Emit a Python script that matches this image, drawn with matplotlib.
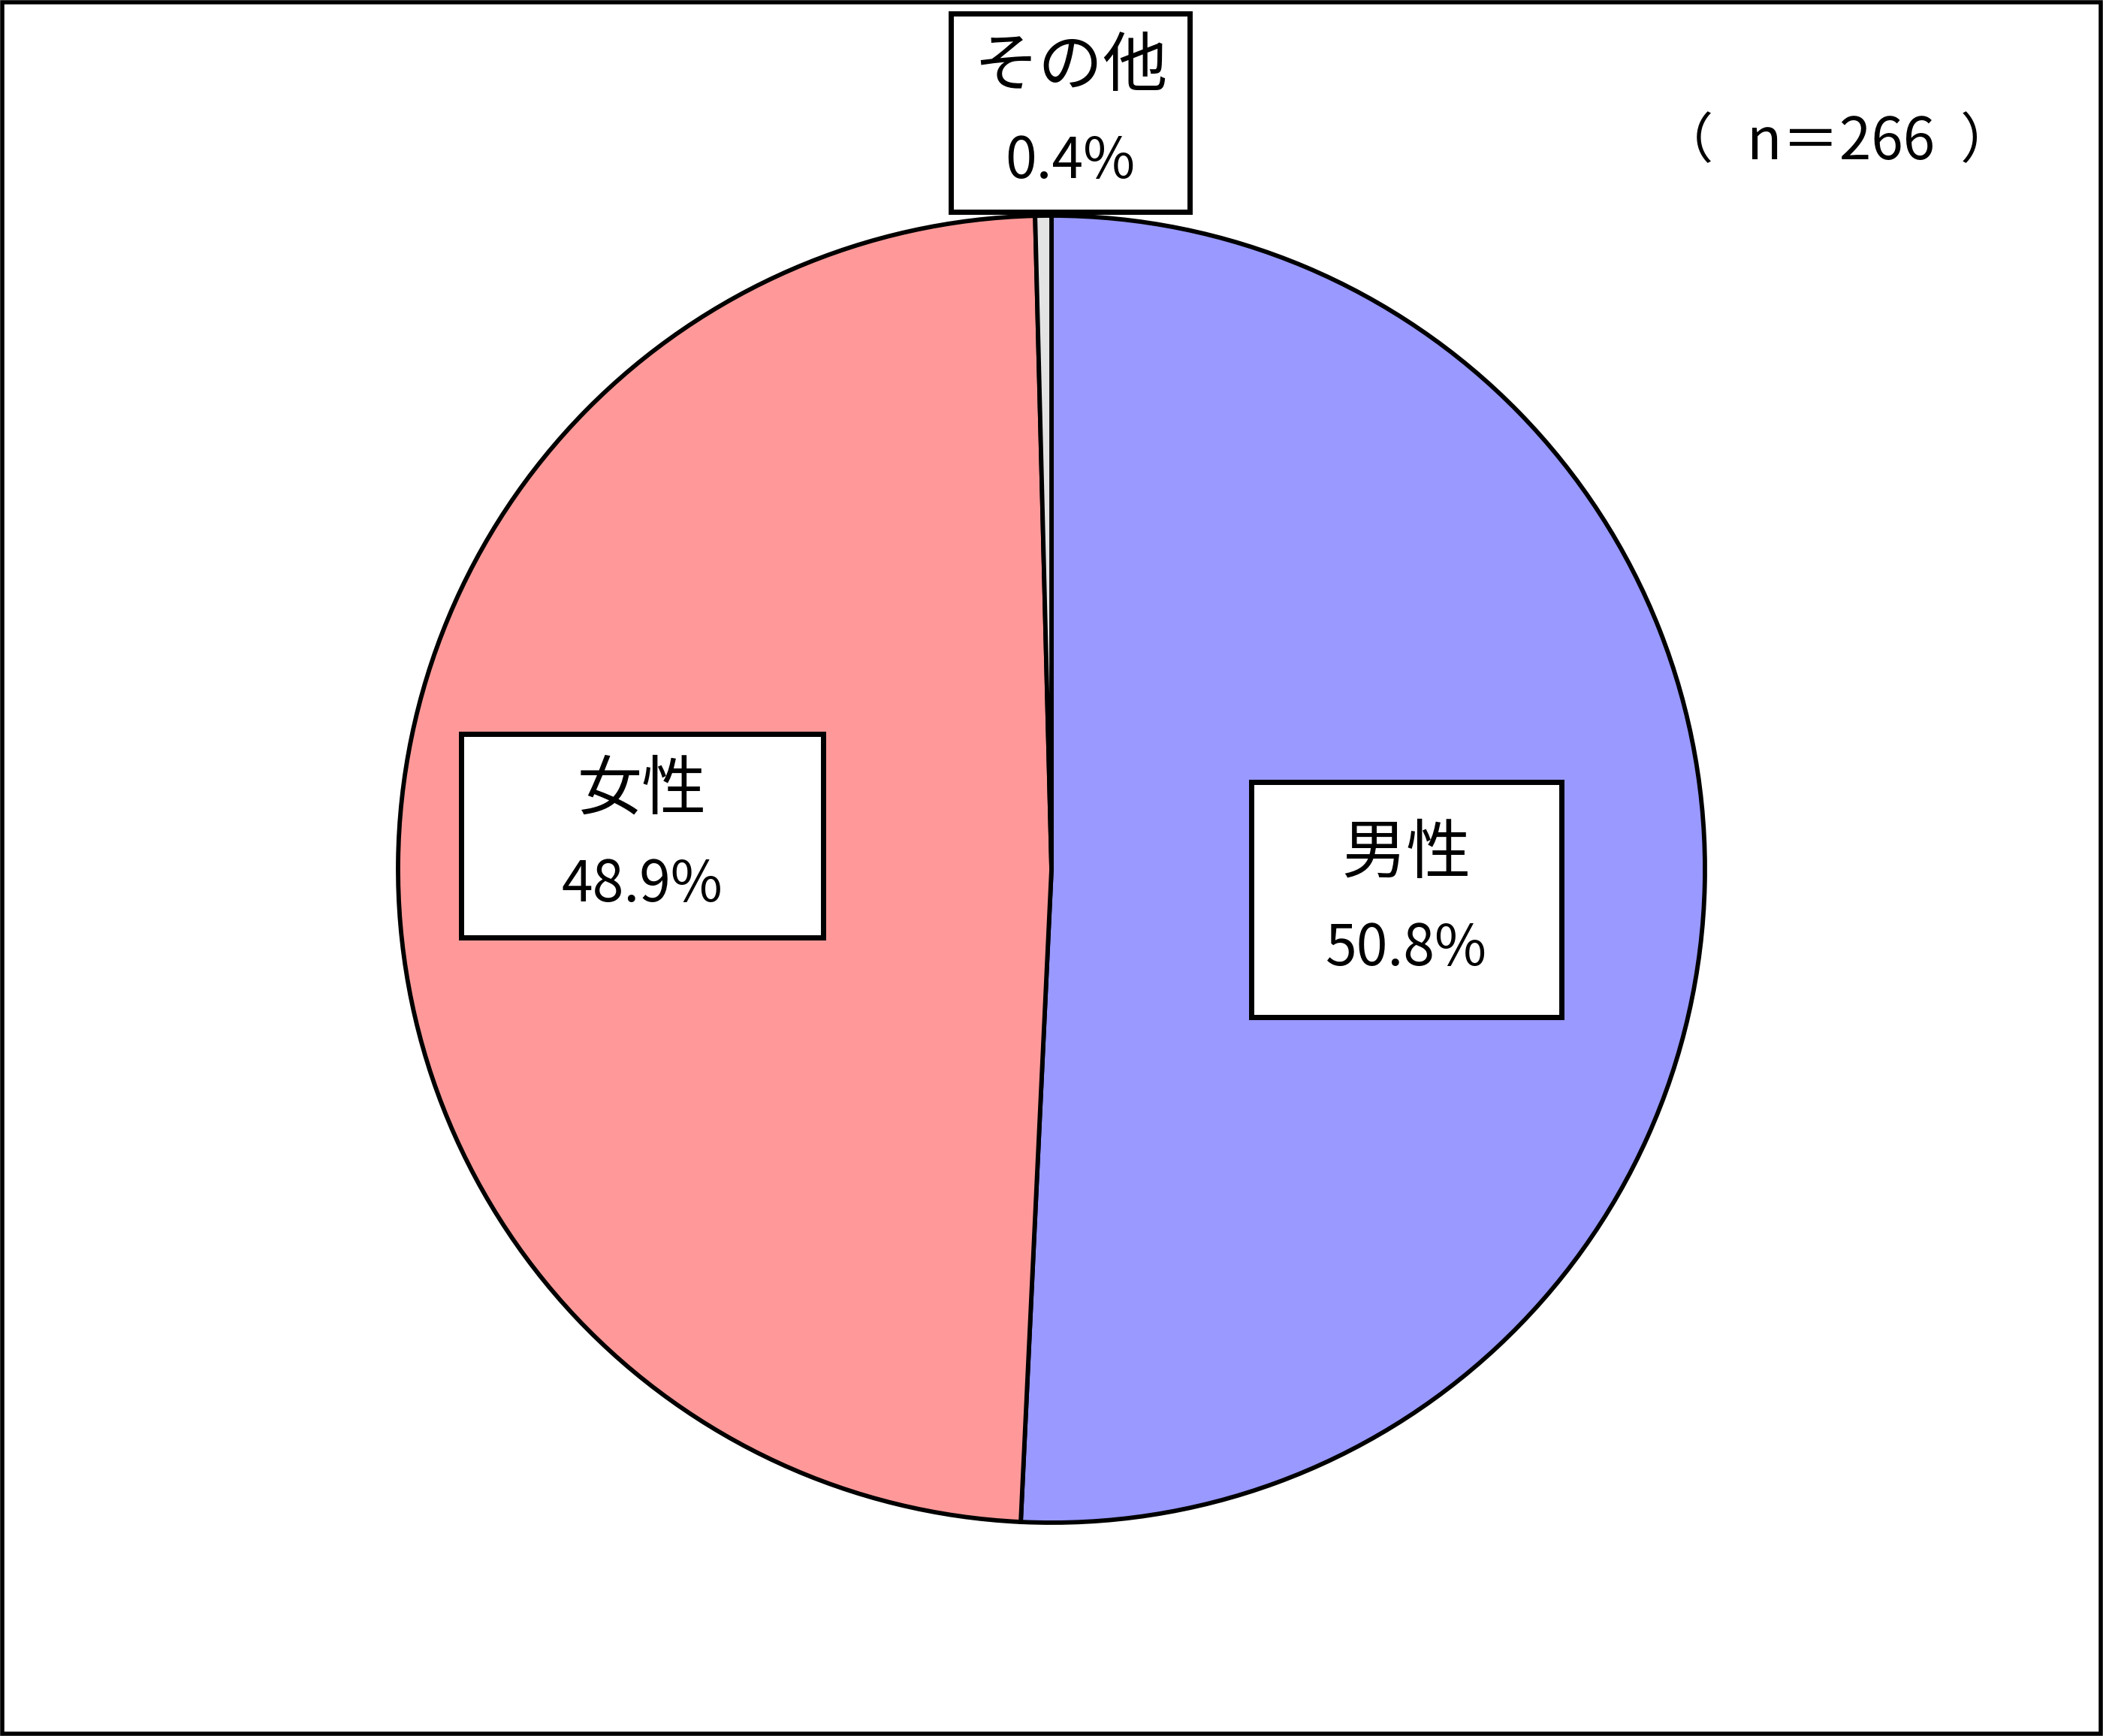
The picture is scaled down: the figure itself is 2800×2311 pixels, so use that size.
import matplotlib.pyplot as plt
from matplotlib.patches import Rectangle

plt.rcParams['font.family'] = ['Noto Sans CJK JP', 'DejaVu Sans']

# data
labels = ['男性', '女性', 'その他']
shares = [50.8, 48.9, 0.4]
colors = ['#9999FF', '#FF9999', '#E3E3E3']
n_total = 266

W, H = 2800, 2311

fig = plt.figure(figsize=(W / 100, H / 100), dpi=100)
ax = fig.add_axes([0, 0, 1, 1])

# pie in pixel coordinates (y measured from bottom)
ax.pie(shares, colors=colors, startangle=90, counterclock=False,
       center=(1400, H - 1157), radius=870,
       wedgeprops={'edgecolor': 'black', 'linewidth': 4.2})
ax.set_xlim(0, W)
ax.set_ylim(0, H)
ax.set_aspect('equal')
ax.axis('off')

# label boxes: (left, top, width, height) in pixels from top-left
boxes = [
    (1666, 1041, 413, 313),
    (614, 977, 482, 271),
    (1266, 18, 318, 264),
]
for (left, top, bw, bh), name, val in zip(boxes, labels, shares):
    ax.add_patch(Rectangle((left, H - top - bh), bw, bh, facecolor='white',
                           edgecolor='black', linewidth=5, zorder=5))
    cx = left + bw / 2
    cy = H - top - bh / 2
    ax.text(cx, cy + 60, name, ha='center', va='center',
            fontsize=62, zorder=6)
    ax.text(cx, cy - 66, f'{val:.1f}%', ha='center', va='center',
            fontsize=54, zorder=6)

# sample size note, parentheses set apart as in the original
ny = H - 190
ax.text(2245, ny, '（', ha='center', va='center', fontsize=52)
ax.text(2451, ny, f'n＝{n_total}', ha='center', va='center', fontsize=55)
ax.text(2646, ny, '）', ha='center', va='center', fontsize=52)

# outer frame
ax.add_patch(Rectangle((3, 3), W - 6, H - 6, facecolor='none',
                       edgecolor='black', linewidth=4, zorder=10))

fig.savefig('out.png', dpi=100)
